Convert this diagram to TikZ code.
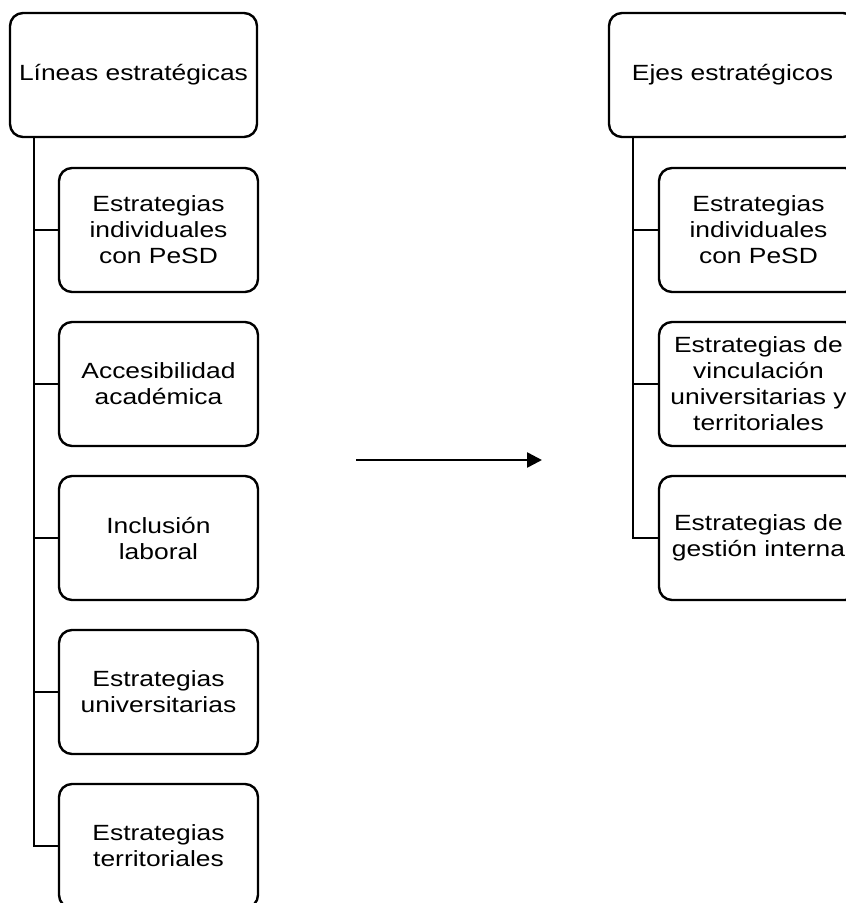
\documentclass[tikz,border=0pt]{standalone}
\usepackage{fontspec}
\setmainfont{Liberation Sans}[FakeStretch=1.2]
\usetikzlibrary{arrows.meta}
\usetikzlibrary{calc}

\tikzset{
  caja/.style={draw=black, line width=2.4pt, rounded corners=13pt, fill=white,
    align=center, inner sep=0pt, minimum width=247pt, minimum height=124pt,
    font=\fontsize{22pt}{26pt}\selectfont},
  hoja/.style={caja, minimum width=199pt},
  rama/.style={line width=2.6pt},
}
\newcommand\hoja[4]{
  \node[hoja] (#1) at (#2,#3) {#4};
}

\begin{document}
\begin{tikzpicture}[x=1pt,y=-1pt]
\useasboundingbox (0,0) rectangle (846,903);

% columna izquierda
\node[caja] (lineas) at (133.5,75) {L\'ineas estrat\'egicas};
\hoja{l1}{158.5}{230}{Estrategias\\individuales\\con PeSD}
\hoja{l2}{158.5}{384}{Accesibilidad\\acad\'emica}
\hoja{l3}{158.5}{538}{Inclusi\'on\\laboral}
\hoja{l4}{158.5}{692}{Estrategias\\universitarias}
\hoja{l5}{158.5}{846}{Estrategias\\territoriales}

% columna derecha
\node[caja] (ejes) at (732.5,75) {Ejes estrat\'egicos};
\hoja{r1}{758.5}{230}{Estrategias\\individuales\\con PeSD}
\hoja{r2}{758.5}{384}{Estrategias de\\vinculaci\'on\\universitarias y\\territoriales}
\hoja{r3}{758.5}{538}{Estrategias de\\gesti\'on interna}

\coordinate (tl) at ($(lineas.south west)+(25pt,0)$);
\coordinate (tr) at ($(ejes.south west)+(25pt,0)$);
\foreach \i in {1,...,5} \draw[rama] (tl) |- (l\i.west);
\foreach \i in {1,...,3} \draw[rama] (tr) |- (r\i.west);

%\draw[help lines] (0,0) grid (846,903);
\coordinate (desde) at (356,460);
\coordinate (hasta) at (542,460);
\draw[rama, -{Triangle[length=15pt,width=15pt]}] (desde) -- (hasta);

\end{tikzpicture}
\end{document}
